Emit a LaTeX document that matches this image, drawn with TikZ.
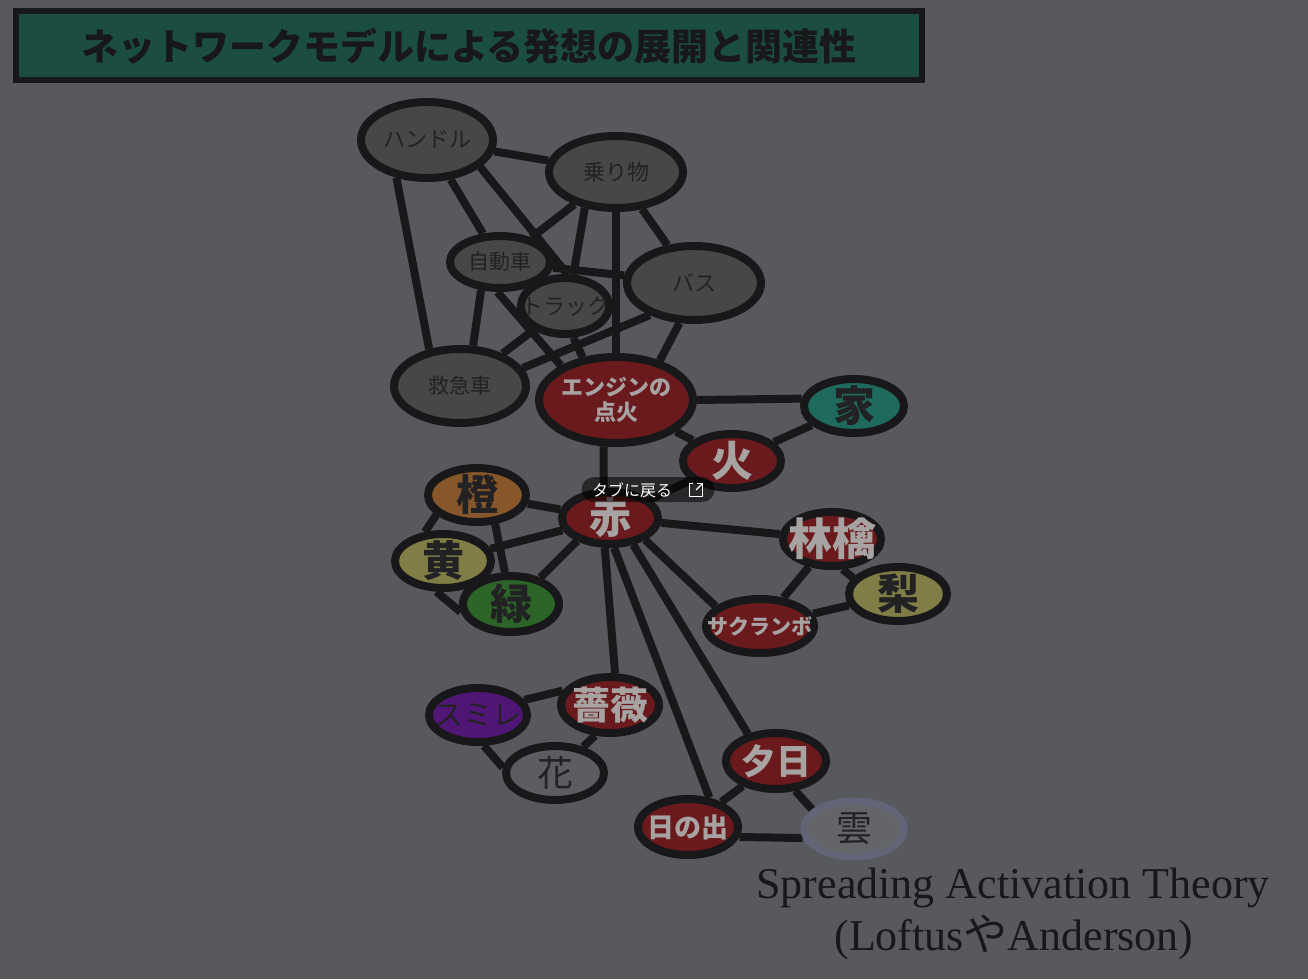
\documentclass[tikz,border=0pt]{standalone}
\usepackage{fontspec}
\setmainfont{Noto Sans CJK JP}
\newfontfamily\serif{Liberation Serif}
\usetikzlibrary{shapes.geometric, backgrounds}

\definecolor{bgc}{HTML}{58595C}
\definecolor{ink}{HTML}{18181A}
\definecolor{grayfill}{HTML}{464749}
\definecolor{darktext}{HTML}{222224}
\definecolor{lighttext}{HTML}{A8A3A3}
\definecolor{redfill}{HTML}{6A1A1C}
\definecolor{tealfill}{HTML}{1E6A5C}
\definecolor{orangefill}{HTML}{87562A}
\definecolor{yellowfill}{HTML}{807D46}
\definecolor{greenfill}{HTML}{2D6428}
\definecolor{purplefill}{HTML}{501676}
\definecolor{hanafill}{HTML}{5C5D60}
\definecolor{kumofill}{HTML}{646568}
\definecolor{kumoline}{HTML}{646479}
\definecolor{titlefill}{HTML}{1B4D40}

\tikzset{
    bub/.style={ellipse, draw=ink, line width=8pt, inner sep=0pt},
    sz/.style 2 args={minimum width=#1pt, minimum height=#2pt},
    link/.style={draw=ink, line width=8pt},
    fnt/.style={font=\fontsize{#1}{#1}\selectfont},
    bfnt/.style={font=\bfseries\fontsize{#1}{#1}\selectfont},
    dk/.style={text=darktext},
    lt/.style={text=lighttext},
}

\begin{document}
\begin{tikzpicture}[x=1pt, y=-1pt]
    \useasboundingbox (0,0) rectangle (1308,979);

    % title bar
    \node[draw=ink, line width=6pt, fill=titlefill, minimum width=906pt, minimum height=69pt,
        text=ink, bfnt=37] (title) at (469,46) {ネットワークモデルによる発想の展開と関連性};

    % vehicles
    \node[bub, fill=grayfill, sz={132}{76}, label={[dk, fnt=22]center:ハンドル}] (handle) at (427,140) {};
    \node[bub, fill=grayfill, sz={134}{72}, label={[dk, fnt=22]center:乗り物}] (norimono) at (616,172) {};
    \node[bub, fill=grayfill, sz={100}{52}, label={[dk, fnt=21]center:自動車}] (jidosha) at (500,262) {};
    \node[bub, fill=grayfill, sz={88}{56}, label={[dk, fnt=22]center:トラック}] (truck) at (565,306) {};
    \node[bub, fill=grayfill, sz={134}{74}, label={[dk, fnt=22]center:バス}] (bus) at (694,283) {};
    \node[bub, fill=grayfill, sz={132}{74}, label={[dk, fnt=21]center:救急車}] (kyukyu) at (460,386) {};
    \node[bub, fill=redfill, sz={154}{86},
        label={[lt, align=center, font=\bfseries\fontsize{22}{25}\selectfont]center:エンジンの\\点火}] (engine) at (616,400) {};

    % fire and colours
    \node[bub, fill=tealfill, sz={100}{54}, label={[dk, bfnt=42]center:家}] (ie) at (854,406) {};
    \node[bub, fill=redfill, sz={98}{54}, label={[lt, bfnt=42]center:火}] (hi) at (732,461) {};
    \node[bub, fill=orangefill, sz={98}{54}, label={[dk, bfnt=42]center:橙}] (dai) at (477,495) {};
    \node[bub, fill=redfill, sz={96}{52}, label={[lt, bfnt=42]center:赤}] (aka) at (610,518) {};
    \node[bub, fill=yellowfill, sz={96}{54}, label={[dk, bfnt=42]center:黄}] (ki) at (443,561) {};
    \node[bub, fill=greenfill, sz={96}{56}, label={[dk, bfnt=42]center:緑}] (midori) at (511,604) {};

    % fruit
    \node[bub, fill=redfill, sz={98}{54}, label={[lt, bfnt=44]center:林檎}] (ringo) at (832,539) {};
    \node[bub, fill=yellowfill, sz={98}{54}, label={[dk, bfnt=42]center:梨}] (nashi) at (898,594) {};
    \node[bub, fill=redfill, sz={108}{54}, label={[lt, bfnt=21]center:サクランボ}] (sakuranbo) at (760,626) {};

    % flowers and sky
    \node[bub, fill=purplefill, sz={98}{54}, label={[dk, fnt=29]center:スミレ}] (sumire) at (478,715) {};
    \node[bub, fill=redfill, sz={98}{56}, label={[lt, bfnt=38]center:薔薇}] (bara) at (610,705) {};
    \node[bub, fill=hanafill, sz={98}{54}, label={[dk, fnt=36]center:花}] (hana) at (555,773) {};
    \node[bub, fill=redfill, sz={100}{56}, label={[lt, bfnt=35]center:夕日}] (yuhi) at (776,761) {};
    \node[bub, fill=redfill, sz={100}{56}, label={[lt, bfnt=27]center:日の出}] (hinode) at (688,827) {};
    \node[bub, fill=kumofill, draw=kumoline, line width=7pt, sz={100}{56},
        label={[dk, fnt=36]center:雲}] (kumo) at (854,829) {};

    % caption
    \node[anchor=base, text=ink, font=\serif\fontsize{44}{44}\selectfont] (theory) at (1013,898)
        {Spreading Activation Theory};
    \node[anchor=base, text=ink, font=\serif\fontsize{44}{44}\selectfont] (authors) at (1014,950)
        {(Loftus{\rmfamily や}Anderson)};

    \begin{scope}[on background layer]
        \fill[bgc] (0,0) rectangle (1308,979);
        % links
        \draw[link] (handle) -- (norimono);
        \draw[link] (handle.-129) -- (kyukyu.130);
        \draw[link] (handle) -- (jidosha);
        \draw[link] (handle.-27) -- (truck.86);
        \draw[link] (norimono) -- (jidosha);
        \draw[link] (norimono.-131) -- (truck.75);
        \draw[link] (norimono) -- (engine);
        \draw[link] (norimono) -- (bus);
        \draw[link] (jidosha) -- (bus);
        \draw[link] (jidosha.-124) -- (kyukyu.72);
        \draw[link] (jidosha.-95) -- (engine.148);
        \draw[link] (truck) -- (kyukyu);
        \draw[link] (truck.-75) -- (engine.128);
        \draw[link] (bus.-144) -- (kyukyu.16);
        \draw[link] (bus.-110) -- (engine.42);
        \draw[link] (engine.0) -- (ie.172);
        \draw[link] (engine) -- (hi);
        \draw[link] (ie) -- (hi);
        \draw[link] (engine.-105) -- (aka.102);
        \draw[link] (aka) -- (hi);
        \draw[link] (aka) -- (dai);
        \draw[link] (aka) -- (ki);
        \draw[link] (aka.-145) -- (midori.42);
        \draw[link] (dai.-154) -- (ki.122);
        \draw[link] (dai.-58) -- (midori.101);
        \draw[link] (ki.-102) -- (midori.-171);
        \draw[link] (aka) -- (ringo);
        \draw[link] (ringo.-71) -- (nashi.160);
        \draw[link] (ringo) -- (sakuranbo);
        \draw[link] (sakuranbo) -- (nashi);
        \draw[link] (aka.-32) -- (sakuranbo.156);
        \draw[link] (aka.-100) -- (bara.81);
        \draw[link] (aka.-82) -- (hinode.54);
        \draw[link] (aka.-49) -- (yuhi.136);
        \draw[link] (sumire.18) -- (bara.163);
        \draw[link] (sumire.-79) -- (hana.174);
        \draw[link] (bara.-116) -- (hana.43);
        \draw[link] (yuhi) -- (hinode);
        \draw[link] (yuhi.-57) -- (kumo.155);
        \draw[link] (hinode.-11) -- (kumo.-170);
    \end{scope}

    % tab button
    \node[fill=black, fill opacity=0.55, rounded corners=12.5pt, minimum width=133pt,
        minimum height=25pt, inner sep=0pt] (popup) at (648,489.5) {};
    \node[text=white, fnt=16, inner sep=0pt] (popuptext) at (632,490) {タブに戻る};
    \node[minimum size=12pt, inner sep=0pt] (icon) at (696,490) {};
    \draw[white, line width=1.3pt] ([xshift=-3pt]icon.north) -| (icon.south west) -| ([yshift=-5pt]icon.north east);
    \draw[white, line width=1.3pt] (icon.center) -- (icon.north east);
    \draw[white, line width=1.3pt] ([xshift=-5pt]icon.north east) -- (icon.north east) -- ([yshift=-5pt]icon.north east);
\end{tikzpicture}
\end{document}
